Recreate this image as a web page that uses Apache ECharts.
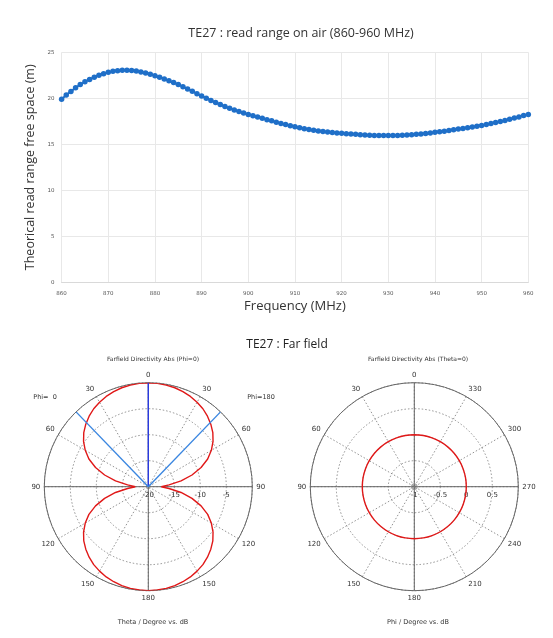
<!DOCTYPE html>
<html>
<head>
<meta charset="utf-8">
<script src="https://cdn.jsdelivr.net/npm/echarts@6/dist/echarts.min.js"></script>
<style>
html,body{margin:0;padding:0;background:#fff;}
#c{width:553px;height:638px;}
</style>
</head>
<body>
<div id="c"></div>
<script>
// ---- Read range (top chart) ----
const freqMHz = [860,861,862,863,864,865,866,867,868,869,870,871,872,873,874,875,876,877,878,879,
880,881,882,883,884,885,886,887,888,889,890,891,892,893,894,895,896,897,898,899,
900,901,902,903,904,905,906,907,908,909,910,911,912,913,914,915,916,917,918,919,
920,921,922,923,924,925,926,927,928,929,930,931,932,933,934,935,936,937,938,939,
940,941,942,943,944,945,946,947,948,949,950,951,952,953,954,955,956,957,958,959,960];
const readRangeM = [19.9,20.35,20.75,21.15,21.5,21.8,22.05,22.3,22.5,22.68,22.82,22.93,23.0,23.05,23.05,23.02,22.96,22.87,22.76,22.62,
22.46,22.29,22.1,21.91,21.71,21.5,21.26,21.01,20.76,20.5,20.25,20.01,19.77,19.54,19.32,19.1,18.91,18.73,18.56,18.4,
18.25,18.1,17.96,17.82,17.68,17.55,17.41,17.27,17.14,17.02,16.9,16.8,16.7,16.61,16.53,16.45,16.39,16.33,16.28,16.24,
16.2,16.16,16.12,16.08,16.04,16.01,15.99,15.97,15.96,15.95,15.95,15.95,15.97,15.99,16.02,16.05,16.09,16.13,16.18,16.24,
16.3,16.36,16.43,16.5,16.57,16.65,16.72,16.8,16.88,16.96,17.05,17.15,17.25,17.36,17.48,17.6,17.72,17.85,17.98,18.12,18.25];

// ---- Far field, Phi=0 / Phi=180 cut (theta in degrees, directivity in dB) ----
const thetaDeg = [0,5,10,15,20,25,30,35,40,45,50,55,60,65,70,75,80,85,90,
95,100,105,110,115,120,125,130,135,140,145,150,155,160,165,170,175,180];
const dirPhi180dB = [0,-0.05,-0.15,-0.3,-0.55,-0.85,-1.25,-1.7,-2.3,-3.0,-3.8,-4.8,-6.0,-7.4,-9.2,-11.3,-13.6,-16.0,-17.5,
-16.0,-13.6,-11.3,-9.2,-7.4,-6.0,-4.8,-3.8,-3.0,-2.3,-1.7,-1.25,-0.85,-0.55,-0.3,-0.15,-0.05,0];
const dirPhi0dB = [0,-0.05,-0.15,-0.3,-0.55,-0.85,-1.25,-1.7,-2.3,-3.0,-3.8,-4.8,-6.0,-7.4,-9.2,-11.3,-13.6,-16.0,-17.5,
-16.0,-13.6,-11.3,-9.2,-7.4,-6.0,-4.8,-3.8,-3.0,-2.3,-1.7,-1.25,-0.85,-0.55,-0.3,-0.15,-0.05,0];
const mainLobeTheta = 0;
const beamEdgeTheta = 44;   // 3 dB angular width markers (both sides)

// ---- Far field, Theta=0 cut (phi in degrees, directivity in dB) ----
const phiDeg = [0,10,20,30,40,50,60,70,80,90,100,110,120,130,140,150,160,170,180,
190,200,210,220,230,240,250,260,270,280,290,300,310,320,330,340,350,360];
const dirTheta0dB = [0,0,0,0,0,0,0,0,0,0,0,0,0,0,0,0,0,0,0,
0,0,0,0,0,0,0,0,0,0,0,0,0,0,0,0,0,0];

const leftRadiusTicks = {min:-20, max:0, interval:5};
const rightRadiusTicks = {min:-1, max:1, interval:0.5};

// angle-axis value mapping helpers (radius axis drawn along 3 o'clock)
function leftRightSide(t){ return t < 90 ? t + 360 : t; }  // phi=180 half (right)
function leftLeftSide(t){ return 360 - t; }                 // phi=0 half (left)
function rightPhi(p){ return p > 270 ? p - 360 : p; }

const redLeft = [];
thetaDeg.forEach((t,i)=>redLeft.push([dirPhi180dB[i], leftRightSide(t)]));
for (let i = thetaDeg.length-1; i >= 0; i--) redLeft.push([dirPhi0dB[i], leftLeftSide(thetaDeg[i])]);

const redRight = phiDeg.map((p,i)=>[dirTheta0dB[i], rightPhi(p)]);

const chart = echarts.init(document.getElementById('c'), null, {renderer:'canvas'});
const FS = "DejaVu Sans";
const TF = "Open Sans";
const dotted = {type:[1.5,2], color:'#777', width:0.8};
const solid = {type:'solid', color:'#666', width:1};

const angleLabelStyle = {fontFamily:FS, fontSize:7, color:'#333', margin:4};
const radLabelStyle = {fontFamily:FS, fontSize:7, color:'#333', showMaxLabel:false, margin:-5, verticalAlign:'top'};

chart.setOption({
  animation:false,
  title:[
    {text:'TE27 : read range on air (860-960 MHz)', left:296, top:22, textAlign:'center',
     textStyle:{fontFamily:TF, fontSize:12.5, fontWeight:'normal', color:'#333'}},
    {text:'TE27 : Far field', left:282, top:334, textAlign:'center',
     textStyle:{fontFamily:TF, fontSize:12, fontWeight:'normal', color:'#222'}},
    {text:'Farfield Directivity Abs (Phi=0)', left:148, top:351, textAlign:'center',
     textStyle:{fontFamily:FS, fontSize:6, fontWeight:'normal', color:'#333'}},
    {text:'Farfield Directivity Abs (Theta=0)', left:413, top:351, textAlign:'center',
     textStyle:{fontFamily:FS, fontSize:6, fontWeight:'normal', color:'#333'}},
    {text:'Phi=  0', left:40, top:389, textAlign:'center',
     textStyle:{fontFamily:FS, fontSize:6.5, fontWeight:'normal', color:'#333'}},
    {text:'Phi=180', left:256, top:389, textAlign:'center',
     textStyle:{fontFamily:FS, fontSize:6.5, fontWeight:'normal', color:'#333'}},
    {text:'Theta / Degree vs. dB', left:148, top:614, textAlign:'center',
     textStyle:{fontFamily:FS, fontSize:6.5, fontWeight:'normal', color:'#333'}},
    {text:'Phi / Degree vs. dB', left:413, top:614, textAlign:'center',
     textStyle:{fontFamily:FS, fontSize:6.5, fontWeight:'normal', color:'#333'}}
  ],
  grid:{left:61.6, right:24.7, top:52.3, bottom:355.7, containLabel:false},
  xAxis:{type:'value', min:860, max:960, interval:10,
    name:'Frequency (MHz)', nameLocation:'middle', nameGap:17,
    nameTextStyle:{fontFamily:TF, fontSize:13, color:'#333'},
    axisLine:{lineStyle:{color:'#d9d9d9'}}, axisTick:{show:false},
    axisLabel:{fontFamily:FS, fontSize:5.5, color:'#555', margin:8},
    splitLine:{lineStyle:{color:'#e8e8e8'}}},
  yAxis:{type:'value', min:0, max:25, interval:5,
    name:'Theorical read range free space (m)', nameLocation:'middle', nameGap:9,
    nameTextStyle:{fontFamily:TF, fontSize:12.5, color:'#333'},
    axisLine:{show:false}, axisTick:{show:false},
    axisLabel:{fontFamily:FS, fontSize:5.5, color:'#555', margin:7},
    splitLine:{lineStyle:{color:'#e8e8e8'}}},
  polar:[
    {center:[148.3,486.7], radius:104},
    {center:[148.3,486.7], radius:104},
    {center:[414.3,486.7], radius:104},
    {center:[414.3,486.7], radius:104}
  ],
  angleAxis:[
    {polarIndex:0, type:'value', min:90, max:450, interval:30, startAngle:0, clockwise:true,
     axisLine:{show:false}, axisTick:{show:false},
     axisLabel:Object.assign({formatter:v=>{const p=v%360; return String(p<=180?p:360-p);}}, angleLabelStyle),
     splitLine:{show:true, lineStyle:dotted}},
    {polarIndex:1, type:'value', min:90, max:450, interval:90, startAngle:0, clockwise:true,
     axisLine:{show:true, lineStyle:{color:'#666', width:1}}, axisTick:{show:false}, axisLabel:{show:false},
     splitLine:{show:true, lineStyle:solid}},
    {polarIndex:2, type:'value', min:-90, max:270, interval:30, startAngle:0, clockwise:false,
     axisLine:{show:false}, axisTick:{show:false},
     axisLabel:Object.assign({formatter:v=>String((v+360)%360)}, angleLabelStyle),
     splitLine:{show:true, lineStyle:dotted}},
    {polarIndex:3, type:'value', min:-90, max:270, interval:90, startAngle:0, clockwise:false,
     axisLine:{show:true, lineStyle:{color:'#666', width:1}}, axisTick:{show:false}, axisLabel:{show:false},
     splitLine:{show:true, lineStyle:solid}}
  ],
  radiusAxis:[
    {polarIndex:0, type:'value', min:leftRadiusTicks.min, max:leftRadiusTicks.max, interval:leftRadiusTicks.interval,
     axisLine:{show:false}, axisTick:{show:false}, axisLabel:radLabelStyle,
     splitLine:{show:true, lineStyle:dotted}},
    {polarIndex:1, type:'value', min:leftRadiusTicks.min, max:leftRadiusTicks.max,
     axisLine:{show:false}, axisTick:{show:false}, axisLabel:{show:false}, splitLine:{show:false}},
    {polarIndex:2, type:'value', min:rightRadiusTicks.min, max:rightRadiusTicks.max, interval:rightRadiusTicks.interval,
     axisLine:{show:false}, axisTick:{show:false}, axisLabel:radLabelStyle,
     splitLine:{show:true, lineStyle:dotted}},
    {polarIndex:3, type:'value', min:rightRadiusTicks.min, max:rightRadiusTicks.max,
     axisLine:{show:false}, axisTick:{show:false}, axisLabel:{show:false}, splitLine:{show:false}}
  ],
  series:[
    {type:'line', xAxisIndex:0, yAxisIndex:0, data:freqMHz.map((f,i)=>[f, readRangeM[i]]),
     symbol:'circle', symbolSize:5.5, showAllSymbol:true,
     lineStyle:{color:'#1f6fc8', width:2}, itemStyle:{color:'#1f6fc8'}},
    {type:'line', coordinateSystem:'polar', polarIndex:0, data:redLeft, symbol:'none',
     lineStyle:{color:'#e01818', width:1.4}, z:5},
    {type:'line', coordinateSystem:'polar', polarIndex:0,
     data:[[leftRadiusTicks.min, leftRightSide(mainLobeTheta)],[leftRadiusTicks.max, leftRightSide(mainLobeTheta)]],
     symbol:'none', lineStyle:{color:'#2a3be0', width:1.4}, z:6},
    {type:'line', coordinateSystem:'polar', polarIndex:0,
     data:[[leftRadiusTicks.min, leftRightSide(beamEdgeTheta)],[leftRadiusTicks.max, leftRightSide(beamEdgeTheta)]],
     symbol:'none', lineStyle:{color:'#3a86e0', width:1.4}, z:6},
    {type:'line', coordinateSystem:'polar', polarIndex:0,
     data:[[leftRadiusTicks.min, leftLeftSide(beamEdgeTheta)],[leftRadiusTicks.max, leftLeftSide(beamEdgeTheta)]],
     symbol:'none', lineStyle:{color:'#3a86e0', width:1.4}, z:6},
    {type:'line', coordinateSystem:'polar', polarIndex:2, data:redRight, symbol:'none', smooth:true,
     lineStyle:{color:'#e01818', width:1.4}, z:5},
    {type:'scatter', coordinateSystem:'polar', polarIndex:2, data:[[rightRadiusTicks.min, 0]],
     symbol:'circle', symbolSize:6, itemStyle:{color:'rgba(0,0,0,0)', borderColor:'#888', borderWidth:1}, z:4}
  ]
});
</script>
</body>
</html>
